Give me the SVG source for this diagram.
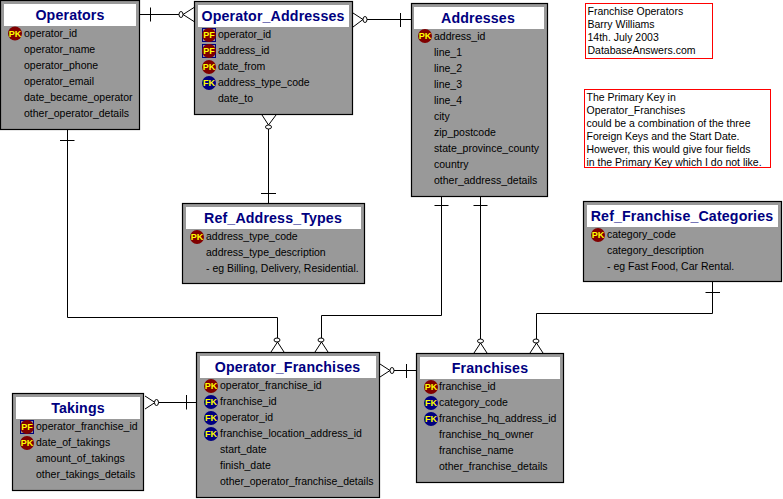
<svg xmlns="http://www.w3.org/2000/svg" width="783" height="499" viewBox="0 0 783 499">
<style>
.box{fill:#999999;stroke:#000;stroke-width:1.2}
.hd{fill:#fff}
.t{font:bold 14.2px "Liberation Sans",Arial,sans-serif;fill:#000080;text-anchor:middle;letter-spacing:.15px}
.f{font:10.5px "Liberation Sans",Arial,sans-serif;fill:#000}
.k{font:bold 9px "Liberation Sans",Arial,sans-serif;fill:#ffff00;text-anchor:middle}
.pk{fill:#800000}
.fk{fill:#000080}
.sq{fill:none;stroke:#000080;stroke-width:1}
.c{fill:none;stroke:#000;stroke-width:1}
.c2{fill:#fff;stroke:#000;stroke-width:1}
.note{fill:#fff;stroke:#ff0000;stroke-width:1}
</style>
<rect width="783" height="499" fill="#fff"/>
<g id="connectors" class="c">
<path class="c" d="M139 14.5H179M150.5 7.5V21.5M194 7.5L183 14.500L194 21.500"/><ellipse class="c2" cx="181" cy="14.500" rx="2" ry="3"/>
<path class="c" d="M400.500 13V27M411 19.500H367M353 13L363 19.500L353 27"/><ellipse class="c2" cx="365" cy="19.500" rx="2" ry="3"/>
<path class="c" d="M268.500 203V129M261 193.500H276M262 115L268.500 125L276 115"/><ellipse class="c2" cx="268.500" cy="127" rx="3" ry="2"/>
<path class="c" d="M67.500 129V317.500H277.500V338M60 140.500H74.500M271 352L277.500 342L284 352"/><ellipse class="c2" cx="277" cy="340" rx="3" ry="2"/>
<path class="c" d="M441.500 196V315.500H321.500V338M434.500 205.500H448.500M315 352L321.500 342L328 352"/><ellipse class="c2" cx="321" cy="340" rx="3" ry="2"/>
<path class="c" d="M480.500 196V339M473.500 205.500H487.500M474 353L480.500 343L487 353"/><ellipse class="c2" cx="480.500" cy="341" rx="3" ry="2"/>
<path class="c" d="M712.500 281V313.500H536.500V339M705.500 292.500H720M530 353L536.500 343L543 353"/><ellipse class="c2" cx="536" cy="341" rx="3" ry="2"/>
<path class="c" d="M416 370.500H394M406.500 364V378M380 364L390 370.500L380 377"/><ellipse class="c2" cx="392" cy="370.500" rx="2" ry="3"/>
<path class="c" d="M196 402.500H158M186.500 395V409.500M145 396L155 402.500L145 409"/><ellipse class="c2" cx="156.500" cy="402.500" rx="2" ry="3"/>
</g>
<g id="operators">
<rect class="box" x="0.500" y="0.500" width="139" height="129"/><rect class="hd" x="4" y="4" width="132" height="22"/>
<text class="t" x="70" y="20">Operators</text>
<circle class="pk" cx="15" cy="33.500" r="7"/><text class="k" x="15" y="36.500">PK</text>
<text class="f" x="24" y="37">operator_id</text>
<text class="f" x="24" y="53">operator_name</text>
<text class="f" x="24" y="69">operator_phone</text>
<text class="f" x="24" y="85">operator_email</text>
<text class="f" x="24" y="101">date_became_operator</text>
<text class="f" x="24" y="117">other_operator_details</text>
</g>
<g id="operator_addresses">
<rect class="box" x="194.500" y="1.500" width="158" height="113"/><rect class="hd" x="198" y="5" width="151" height="22"/>
<text class="t" x="273" y="21">Operator_Addresses</text>
<rect class="sq" x="202.500" y="28.500" width="13" height="13"/><circle class="pk" cx="209" cy="35" r="7"/><text class="k" x="209" y="38">PF</text>
<rect class="sq" x="202.500" y="44.500" width="13" height="13"/><circle class="pk" cx="209" cy="51" r="7"/><text class="k" x="209" y="54">PF</text>
<circle class="pk" cx="209" cy="67" r="7"/><text class="k" x="209" y="70">PK</text>
<circle class="fk" cx="209" cy="83" r="7"/><text class="k" x="209" y="86">FK</text>
<text class="f" x="218" y="38">operator_id</text>
<text class="f" x="218" y="54">address_id</text>
<text class="f" x="218" y="70">date_from</text>
<text class="f" x="218" y="86">address_type_code</text>
<text class="f" x="218" y="102">date_to</text>
</g>
<g id="addresses">
<rect class="box" x="411.500" y="3.500" width="136" height="193"/><rect class="hd" x="414" y="7" width="130" height="22"/>
<text class="t" x="478" y="23">Addresses</text>
<circle class="pk" cx="425" cy="36" r="7"/><text class="k" x="425" y="39">PK</text>
<text class="f" x="434" y="40">address_id</text>
<text class="f" x="434" y="56">line_1</text>
<text class="f" x="434" y="72">line_2</text>
<text class="f" x="434" y="88">line_3</text>
<text class="f" x="434" y="104">line_4</text>
<text class="f" x="434" y="120">city</text>
<text class="f" x="434" y="136">zip_postcode</text>
<text class="f" x="434" y="152">state_province_county</text>
<text class="f" x="434" y="168">country</text>
<text class="f" x="434" y="184">other_address_details</text>
</g>
<g id="ref_address_types">
<rect class="box" x="182.500" y="203.500" width="182" height="80"/><rect class="hd" x="186" y="207" width="175" height="22"/>
<text class="t" x="273" y="223">Ref_Address_Types</text>
<circle class="pk" cx="197" cy="237" r="7"/><text class="k" x="197" y="240">PK</text>
<text class="f" x="206" y="240">address_type_code</text>
<text class="f" x="206" y="256">address_type_description</text>
<text class="f" x="206" y="272">- eg Billing, Delivery, Residential.</text>
</g>
<g id="ref_franchise_categories">
<rect class="box" x="583.500" y="201.500" width="198" height="80"/><rect class="hd" x="587" y="205" width="191" height="22"/>
<text class="t" x="682" y="221">Ref_Franchise_Categories</text>
<circle class="pk" cx="598" cy="235" r="7"/><text class="k" x="598" y="238">PK</text>
<text class="f" x="607" y="238">category_code</text>
<text class="f" x="607" y="254">category_description</text>
<text class="f" x="607" y="270">- eg Fast Food, Car Rental.</text>
</g>
<g id="operator_franchises">
<rect class="box" x="196.500" y="352.500" width="183" height="145"/><rect class="hd" x="200" y="356" width="176" height="22"/>
<text class="t" x="287.500" y="372">Operator_Franchises</text>
<circle class="pk" cx="211" cy="386" r="7"/><text class="k" x="211" y="389">PK</text>
<circle class="fk" cx="211" cy="402" r="7"/><text class="k" x="211" y="405">FK</text>
<circle class="fk" cx="211" cy="418" r="7"/><text class="k" x="211" y="421">FK</text>
<circle class="fk" cx="211" cy="434" r="7"/><text class="k" x="211" y="437">FK</text>
<text class="f" x="220" y="389">operator_franchise_id</text>
<text class="f" x="220" y="405">franchise_id</text>
<text class="f" x="220" y="421">operator_id</text>
<text class="f" x="220" y="437">franchise_location_address_id</text>
<text class="f" x="220" y="453">start_date</text>
<text class="f" x="220" y="469">finish_date</text>
<text class="f" x="220" y="485">other_operator_franchise_details</text>
</g>
<g id="franchises">
<rect class="box" x="416.500" y="353.500" width="147" height="129"/><rect class="hd" x="420" y="357" width="140" height="22"/>
<text class="t" x="490" y="373">Franchises</text>
<circle class="pk" cx="431" cy="387" r="7"/><text class="k" x="431" y="390">PK</text>
<circle class="fk" cx="431" cy="403" r="7"/><text class="k" x="431" y="406">FK</text>
<circle class="fk" cx="431" cy="419" r="7"/><text class="k" x="431" y="422">FK</text>
<text class="f" x="439" y="390">franchise_id</text>
<text class="f" x="439" y="406">category_code</text>
<text class="f" x="439" y="422">franchise_hq_address_id</text>
<text class="f" x="439" y="438">franchise_hq_owner</text>
<text class="f" x="439" y="454">franchise_name</text>
<text class="f" x="439" y="470">other_franchise_details</text>
</g>
<g id="takings">
<rect class="box" x="12.500" y="393.500" width="131" height="97"/><rect class="hd" x="16" y="397" width="124" height="22"/>
<text class="t" x="78" y="413">Takings</text>
<rect class="sq" x="20.500" y="420.500" width="13" height="13"/><circle class="pk" cx="27" cy="427" r="7"/><text class="k" x="27" y="430">PF</text>
<circle class="pk" cx="27" cy="443" r="7"/><text class="k" x="27" y="446">PK</text>
<text class="f" x="36" y="430">operator_franchise_id</text>
<text class="f" x="36" y="446">date_of_takings</text>
<text class="f" x="36" y="462">amount_of_takings</text>
<text class="f" x="36" y="478">other_takings_details</text>
</g>
<g id="note_author">
<rect class="note" x="585.500" y="3.500" width="127" height="55"/>
<text class="f" x="587.500" y="15">Franchise Operators</text>
<text class="f" x="587.500" y="28">Barry Williams</text>
<text class="f" x="587.500" y="41">14th. July 2003</text>
<text class="f" x="587.500" y="54">DatabaseAnswers.com</text>
</g>
<g id="note_primary_key">
<rect class="note" x="584.500" y="89.500" width="186" height="78"/>
<text class="f" x="586.500" y="101">The Primary Key in</text>
<text class="f" x="586.500" y="114">Operator_Franchises</text>
<text class="f" x="586.500" y="127">could be a combination of the three</text>
<text class="f" x="586.500" y="140">Foreign Keys and the Start Date.</text>
<text class="f" x="586.500" y="153">However, this would give four fields</text>
<text class="f" x="586.500" y="166">in the Primary Key which I do not like.</text>
</g>
</svg>
